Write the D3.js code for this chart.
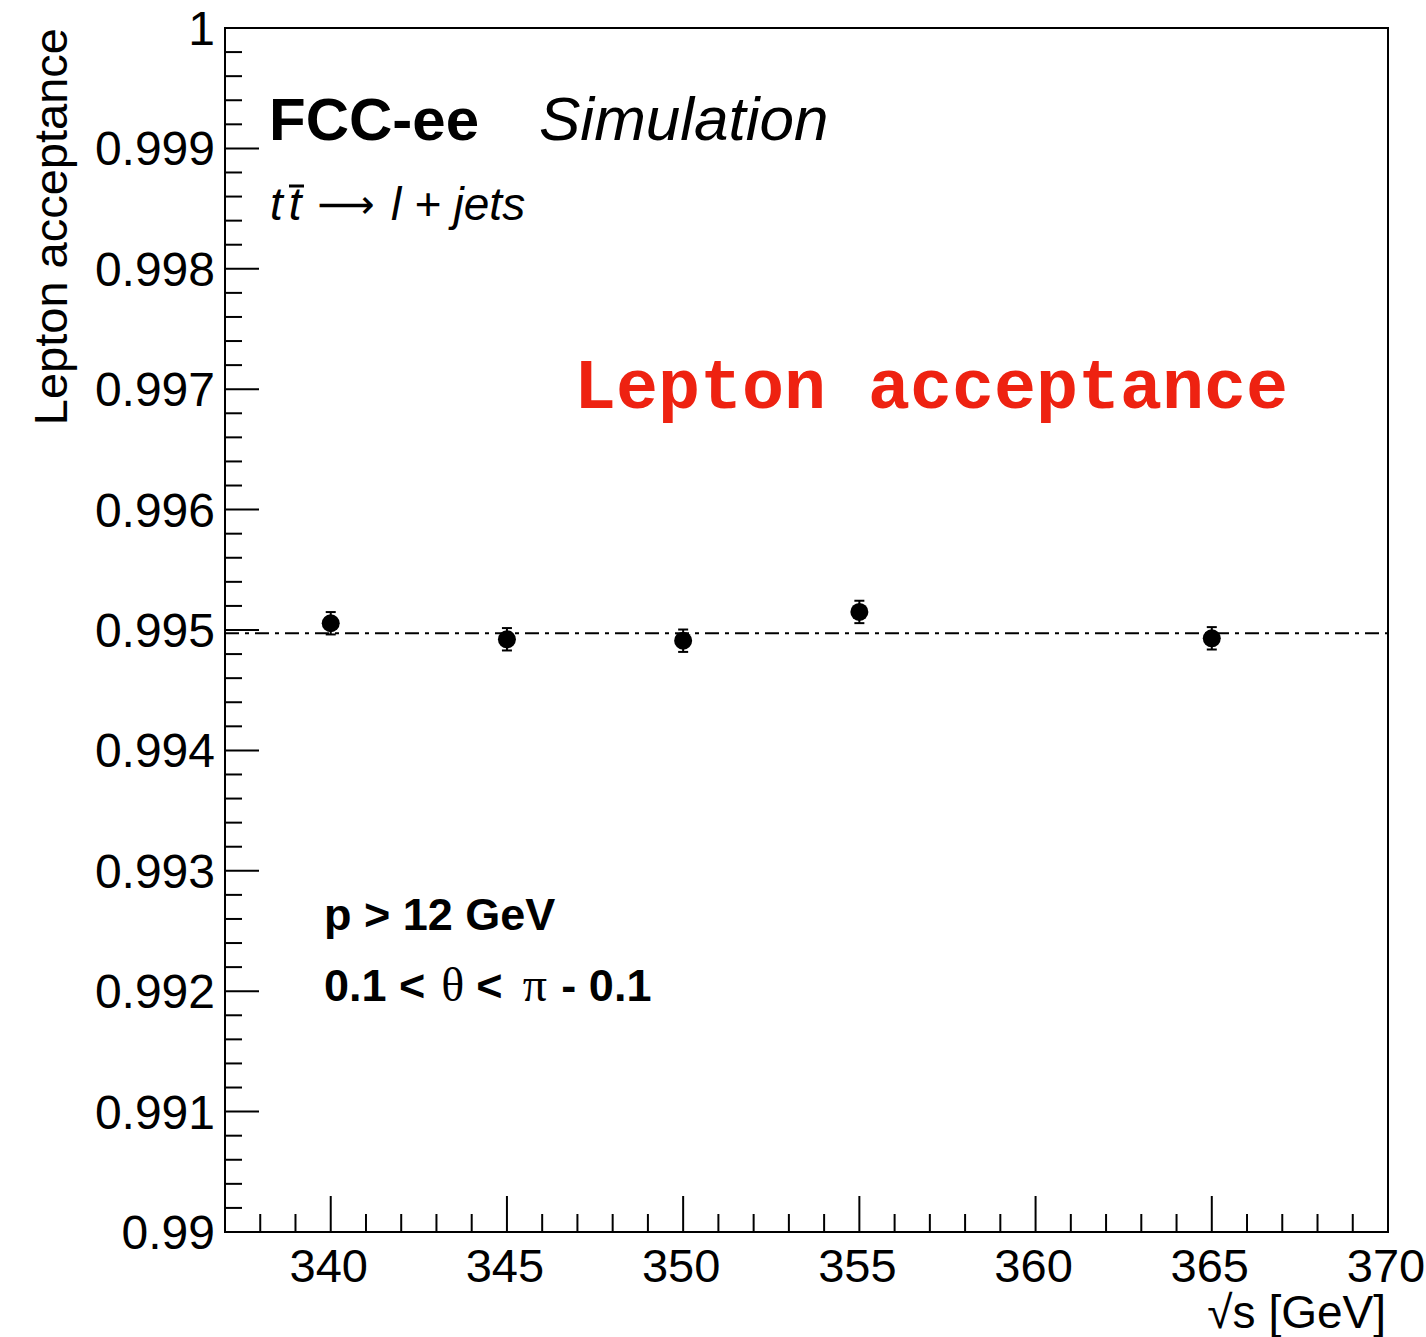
<!DOCTYPE html>
<html>
<head>
<meta charset="utf-8">
<script src="https://cdn.jsdelivr.net/npm/d3@7"></script>
<style>
  body { margin: 0; background: #fff; }
  svg text { font-family: "Liberation Sans", Arial, sans-serif; }
</style>
</head>
<body>
<div id="chart"></div>
<script>
// energies (GeV) and acceptance values
const energies = [340, 345, 350, 355, 365]
const acceptance = [0.995056, 0.994923, 0.994911, 0.995150, 0.994931]
const errors = [0.000093, 0.000093, 0.000093, 0.000093, 0.000093]
const meanLine = 0.994973

const xTicks = [340, 345, 350, 355, 360, 365, 370]
const yTicks = [0.99, 0.991, 0.992, 0.993, 0.994, 0.995, 0.996, 0.997, 0.998, 0.999, 1]

const W = 1426, H = 1337
const margin = { left: 225, right: 38, top: 28, bottom: 105 }
const width = W - margin.left - margin.right
const height = H - margin.top - margin.bottom

const svg = d3.select("#chart").append("svg")
    .attr("width", W)
    .attr("height", H)

const g = svg.append("g")
    .attr("transform", `translate(${margin.left},${margin.top})`)

const x = d3.scaleLinear().domain([337, 370]).range([0, width])
const y = d3.scaleLinear().domain([0.99, 1]).range([height, 0])

/* TICKS */
const minorX = d3.range(338, 371).filter(v => v % 5 !== 0)
g.selectAll(".xminor").data(minorX).enter().append("line")
    .attr("x1", d => x(d)).attr("x2", d => x(d))
    .attr("y1", height).attr("y2", height - 18)
    .style("stroke", "black").style("stroke-width", 2)

g.selectAll(".xmajor").data(xTicks).enter().append("line")
    .attr("x1", d => x(d)).attr("x2", d => x(d))
    .attr("y1", height).attr("y2", height - 36)
    .style("stroke", "black").style("stroke-width", 2)

g.selectAll(".xlabel").data(xTicks).enter().append("text")
    .attr("x", d => x(d) - 2)
    .attr("y", height + 50)
    .attr("text-anchor", "middle")
    .style("font-size", "47px")
    .text(d => d)

const minorY = d3.range(1, 50).filter(i => i % 5 !== 0).map(i => 0.99 + i * 0.0002)
g.selectAll(".yminor").data(minorY).enter().append("line")
    .attr("x1", 0).attr("x2", 17)
    .attr("y1", d => y(d)).attr("y2", d => y(d))
    .style("stroke", "black").style("stroke-width", 2)

g.selectAll(".ymajor").data(yTicks).enter().append("line")
    .attr("x1", 0).attr("x2", 34)
    .attr("y1", d => y(d)).attr("y2", d => y(d))
    .style("stroke", "black").style("stroke-width", 2)

g.selectAll(".ylabel").data(yTicks).enter().append("text")
    .attr("x", -10)
    .attr("y", d => y(d) + 17)
    .attr("text-anchor", "end")
    .style("font-size", "48px")
    .text(d => d === 1 ? "1" : d === 0.99 ? "0.99" : d3.format(".3f")(d))

/* FRAME */
g.append("rect")
    .attr("width", width).attr("height", height)
    .style("fill", "none").style("stroke", "black").style("stroke-width", 2)

/* AXIS TITLES */
svg.append("text")
    .attr("x", W - 40)
    .attr("y", 1328)
    .attr("text-anchor", "end")
    .style("font-size", "46px")
    .text("√s [GeV]")

svg.append("text")
    .attr("transform", `translate(67,${margin.top}) rotate(-90)`)
    .attr("text-anchor", "end")
    .style("font-size", "47px")
    .text("Lepton acceptance")

/* MEAN LINE */
g.append("line")
    .attr("x1", 0).attr("x2", width)
    .attr("y1", y(meanLine)).attr("y2", y(meanLine))
    .style("stroke", "black").style("stroke-width", 2)
    .style("stroke-dasharray", "14,6,4,6")

/* POINTS */
const pts = energies.map((e, i) => ({ e, v: acceptance[i], err: errors[i] }))

g.selectAll(".err").data(pts).enter().append("line")
    .attr("x1", d => x(d.e)).attr("x2", d => x(d.e))
    .attr("y1", d => y(d.v + d.err)).attr("y2", d => y(d.v - d.err))
    .style("stroke", "black").style("stroke-width", 2)

g.selectAll(".capT").data(pts).enter().append("line")
    .attr("x1", d => x(d.e) - 5).attr("x2", d => x(d.e) + 5)
    .attr("y1", d => y(d.v + d.err)).attr("y2", d => y(d.v + d.err))
    .style("stroke", "black").style("stroke-width", 2)

g.selectAll(".capB").data(pts).enter().append("line")
    .attr("x1", d => x(d.e) - 5).attr("x2", d => x(d.e) + 5)
    .attr("y1", d => y(d.v - d.err)).attr("y2", d => y(d.v - d.err))
    .style("stroke", "black").style("stroke-width", 2)

g.selectAll(".dot").data(pts).enter().append("circle")
    .attr("cx", d => x(d.e)).attr("cy", d => y(d.v))
    .attr("r", 9)
    .style("fill", "black")

/* LABELS */
const t1 = svg.append("text").attr("x", 269).attr("y", 140).style("font-size", "60px")
t1.append("tspan").style("font-weight", "bold").text("FCC-ee")
t1.append("tspan").attr("x", 539).style("font-style", "italic").style("font-size", "62px").text("Simulation")

const t2 = svg.append("text").attr("x", 270).attr("y", 220).style("font-size", "46px").style("font-style", "italic")
t2.append("tspan").text("t")
t2.append("tspan").attr("dx", 6).text("t")
t2.append("tspan").style("font-style", "normal").style("font-family", "'DejaVu Sans', sans-serif")
    .style("font-size", "40px").attr("dx", 16).attr("dy", -2).text("⟶")
t2.append("tspan").attr("dx", 16).attr("dy", 2).text("l + jets")

// bar over the second t
svg.append("line")
    .attr("x1", 289).attr("x2", 304)
    .attr("y1", 186).attr("y2", 186)
    .style("stroke", "black").style("stroke-width", 3)

svg.append("text")
    .attr("x", 574).attr("y", 408)
    .style("font-family", "'Liberation Mono', 'DejaVu Sans Mono', monospace")
    .style("font-weight", "bold")
    .style("font-size", "70px")
    .style("fill", "#ee2211")
    .text("Lepton acceptance")

svg.append("text")
    .attr("x", 324).attr("y", 930)
    .style("font-size", "45px").style("font-weight", "bold")
    .text("p > 12 GeV")

const t3 = svg.append("text").attr("x", 324).attr("y", 1001)
    .style("font-size", "45px").style("font-weight", "bold")
t3.append("tspan").text("0.1 <")
t3.append("tspan").attr("dx", 16).style("font-family", "'Liberation Serif', serif").style("font-weight", "normal").style("font-size", "48px").text("θ")
t3.append("tspan").attr("dx", 12).text("<")
t3.append("tspan").attr("dx", 20).style("font-family", "'Liberation Serif', serif").style("font-weight", "normal").style("font-size", "48px").text("π")
t3.append("tspan").attr("dx", 2).text(" - 0.1")
</script>
</body>
</html>
